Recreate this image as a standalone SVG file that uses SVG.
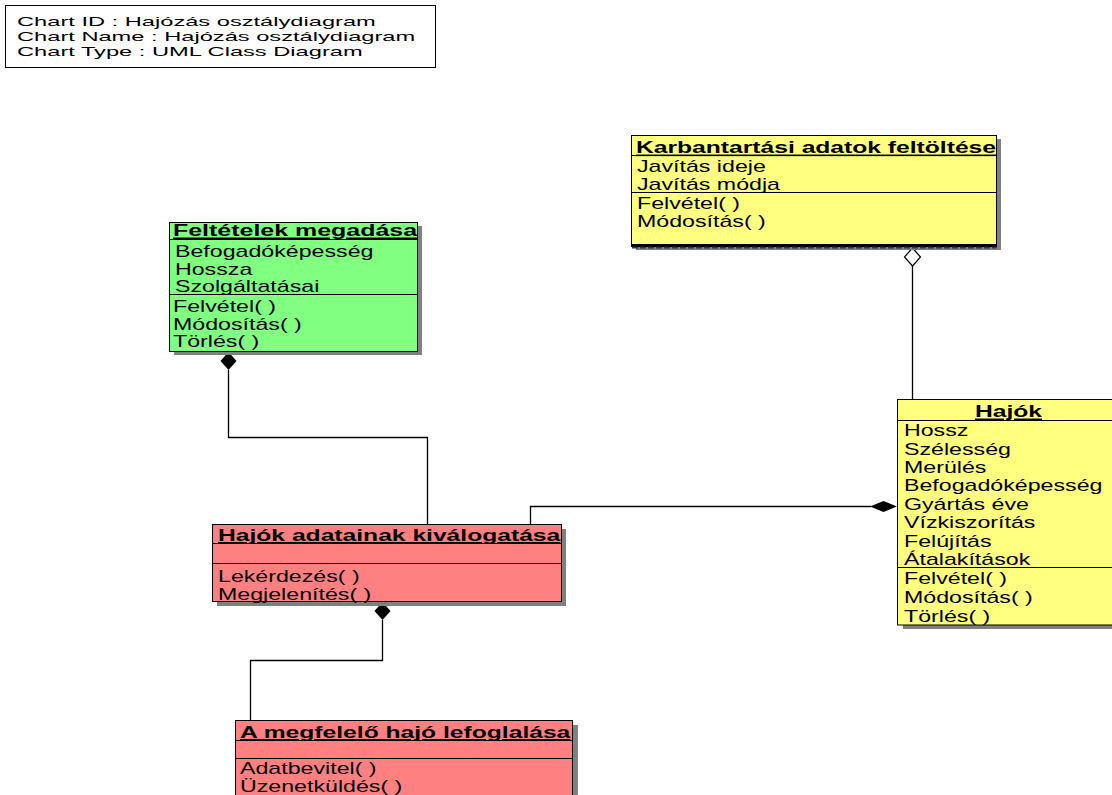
<svg xmlns="http://www.w3.org/2000/svg" width="1112" height="795" viewBox="0 0 1112 795">
<style>
text{font-family:"Liberation Sans",Arial,sans-serif;font-size:16px;fill:#000}
.h{font-size:13px}
.b{font-weight:bold;text-decoration:underline}
.box{stroke:#000;stroke-width:1}
.sh{fill:#808080}
.sep{stroke:#000;stroke-width:1}
.con{fill:none;stroke:#000;stroke-width:1.3}
.g{fill:#80FF80}.y{fill:#FFFF80}.r{fill:#FF8080}
</style>
<rect width="1112" height="795" fill="#fff"/>
<g id="chartinfo">
<rect x="5.5" y="5.5" width="430" height="62" fill="#fff" stroke="#000"/>
<text class="h" transform="translate(17 26) scale(1.82 1)">Chart ID : Hajózás osztálydiagram</text>
<text class="h" transform="translate(17 41) scale(1.82 1)">Chart Name : Hajózás osztálydiagram</text>
<text class="h" transform="translate(17 56) scale(1.82 1)">Chart Type : UML Class Diagram</text>
</g>
<g id="connectors">
<polygon points="228.5,352 236.5,361 228.5,370 220.5,361" fill="#000"/>
<path class="con" d="M228.5 370 V437.5 H427.5 V524.5"/>
<path class="con" d="M530.5 524.5 V506.5 H871"/>
<polygon points="870,506.5 883.5,501 897,506.5 883.5,512" fill="#000"/>
<polygon points="382.5,602 390.5,611 382.5,620 374.5,611" fill="#000"/>
<path class="con" d="M382.5 620 V660.5 H250.5 V720.5"/>
<path class="con" d="M912.5 266 V399.5"/>
<polygon points="912.5,248 920.5,257 912.5,266 904.5,257" fill="#fff" stroke="#000" stroke-width="1.2"/>
</g>
<g id="feltetelek">
<rect class="sh" x="174" y="226" width="248" height="129"/>
<rect class="box g" x="169.5" y="222.5" width="248" height="129"/>
<line class="sep" x1="169.5" y1="239.5" x2="417.5" y2="239.5"/>
<line class="sep" x1="169.5" y1="294.5" x2="417.5" y2="294.5"/>
<text class="b" transform="translate(173 236) scale(1.56 1)">Feltételek megadása</text>
<text transform="translate(175 257) scale(1.45 1)">Befogadóképesség</text>
<text transform="translate(175 274.5) scale(1.45 1)">Hossza</text>
<text transform="translate(175 292) scale(1.45 1)">Szolgáltatásai</text>
<text transform="translate(173 311.5) scale(1.45 1)">Felvétel( )</text>
<text transform="translate(173 329.5) scale(1.45 1)">Módosítás( )</text>
<text transform="translate(173 347) scale(1.45 1)">Törlés( )</text>
</g>
<g id="karbantartasi">
<rect class="sh" x="636" y="139" width="365" height="111"/>
<rect class="box y" x="631.5" y="135.5" width="365" height="111"/>
<line class="sep" x1="631.5" y1="155.5" x2="996.5" y2="155.5"/>
<line class="sep" x1="631.5" y1="192.5" x2="996.5" y2="192.5"/>
<line x1="631.5" y1="245" x2="996.5" y2="245" stroke="#000" stroke-width="2"/>
<line x1="632" y1="247.5" x2="996.5" y2="247.5" stroke="#333" stroke-width="2" stroke-dasharray="6,2"/>
<text class="b" transform="translate(636 153) scale(1.54 1)">Karbantartási adatok feltöltése</text>
<text transform="translate(637 172) scale(1.45 1)">Javítás ideje</text>
<text transform="translate(637 190) scale(1.45 1)">Javítás módja</text>
<text transform="translate(637 208.5) scale(1.45 1)">Felvétel( )</text>
<text transform="translate(637 226.5) scale(1.45 1)">Módosítás( )</text>
</g>
<g id="hajok">
<rect class="sh" x="903" y="404" width="225" height="225"/>
<rect class="box y" x="897.5" y="399.5" width="225" height="225.5"/>
<line class="sep" x1="897.5" y1="420.5" x2="1112" y2="420.5"/>
<line class="sep" x1="897.5" y1="567.5" x2="1112" y2="567.5"/>
<text class="b" text-anchor="middle" transform="translate(1008.5 417) scale(1.54 1)">Hajók</text>
<text transform="translate(904 436) scale(1.45 1)">Hossz</text>
<text transform="translate(904 454.5) scale(1.45 1)">Szélesség</text>
<text transform="translate(904 473) scale(1.45 1)">Merülés</text>
<text transform="translate(904 491) scale(1.45 1)">Befogadóképesség</text>
<text transform="translate(904 509.5) scale(1.45 1)">Gyártás éve</text>
<text transform="translate(904 528) scale(1.45 1)">Vízkiszorítás</text>
<text transform="translate(904 546.5) scale(1.45 1)">Felújítás</text>
<text transform="translate(904 565) scale(1.45 1)">Átalakítások</text>
<text transform="translate(904 584) scale(1.45 1)">Felvétel( )</text>
<text transform="translate(904 603) scale(1.45 1)">Módosítás( )</text>
<text transform="translate(904 621.5) scale(1.45 1)">Törlés( )</text>
</g>
<g id="adatok">
<rect class="sh" x="217" y="529" width="349" height="77"/>
<rect class="box r" x="212.5" y="524.5" width="349" height="77"/>
<line class="sep" x1="212.5" y1="543.5" x2="561.5" y2="543.5"/>
<line class="sep" x1="212.5" y1="563.5" x2="561.5" y2="563.5"/>
<text class="b" transform="translate(218 540.5) scale(1.54 1)">Hajók adatainak kiválogatása</text>
<text transform="translate(218 581.5) scale(1.45 1)">Lekérdezés( )</text>
<text transform="translate(218 599.5) scale(1.45 1)">Megjelenítés( )</text>
</g>
<g id="lefoglalas">
<rect class="sh" x="241" y="725" width="337" height="100"/>
<rect class="box r" x="235.5" y="720.5" width="337" height="100"/>
<line class="sep" x1="235.5" y1="740.5" x2="572.5" y2="740.5"/>
<line class="sep" x1="235.5" y1="758.5" x2="572.5" y2="758.5"/>
<text class="b" transform="translate(240 737.5) scale(1.54 1)">A megfelelő hajó lefoglalása</text>
<text transform="translate(240 774) scale(1.45 1)">Adatbevitel( )</text>
<text transform="translate(240 792) scale(1.45 1)">Üzenetküldés( )</text>
</g>
</svg>
